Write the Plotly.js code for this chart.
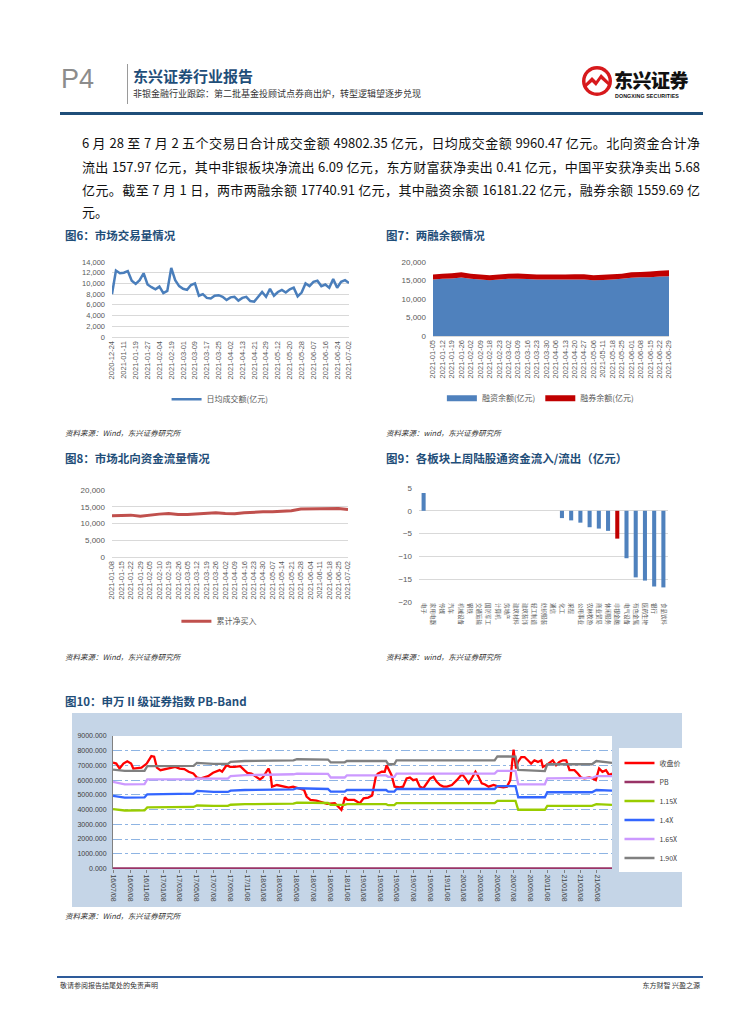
<!DOCTYPE html>
<html><head><meta charset="utf-8">
<script src="https://cdn.plot.ly/plotly-3.0.1.min.js"></script>
<style>
html,body{margin:0;padding:0;background:#fff;}
body{width:755px;height:1024px;position:relative;overflow:hidden;font-family:"Noto Sans CJK SC","Noto Sans",sans-serif;}
.abs{position:absolute;white-space:nowrap;}
.ctitle{position:absolute;font-size:11.5px;font-weight:bold;color:#1F4E79;white-space:nowrap;line-height:14px;}
.src{position:absolute;font-size:7.5px;color:#333;font-style:italic;white-space:nowrap;line-height:10px;}
.para{position:absolute;left:82px;width:618px;font-size:13px;line-height:18px;white-space:nowrap;text-align:justify;text-align-last:justify;color:#111;}
.chart{position:absolute;}
</style></head><body>

<!-- header -->
<div class="abs" style="left:61px;top:63px;font-family:'Liberation Sans',Arial,sans-serif;font-size:27px;color:#8c8c8c;line-height:32px;">P4</div>
<div class="abs" style="left:127px;top:64px;width:1px;height:40px;background:#9a9a9a;"></div>
<div class="abs" style="left:133px;top:67px;font-size:15px;font-weight:bold;color:#1F4E79;line-height:18px;">东兴证券行业报告</div>
<div class="abs" style="left:133px;top:88px;font-size:9px;color:#333;line-height:11px;">非银金融行业跟踪：第二批基金投顾试点券商出炉，转型逻辑望逐步兑现</div>
<svg class="abs" style="left:581px;top:65px;" width="32" height="32" viewBox="0 0 32 32">
  <circle cx="16" cy="16" r="15" fill="#D7191C"/>
  <circle cx="16" cy="16" r="11.5" fill="#fff"/>
  <path d="M4 19 L11 12 L15 16 L20 9 L28 17 L28 21 L20 14 L15 21 L11 17 L4 23 Z" fill="#D7191C"/>
</svg>
<div class="abs" style="left:614px;top:69px;font-size:19px;font-weight:900;color:#111;line-height:22px;letter-spacing:-0.5px;">东兴证券</div>
<div class="abs" style="left:615px;top:93px;font-family:'Liberation Sans',Arial,sans-serif;font-size:5.3px;font-weight:bold;color:#111;line-height:7px;letter-spacing:0.1px;">DONGXING SECURITIES</div>
<div class="abs" style="left:60px;top:112px;width:643px;height:3px;background:#1F4E79;"></div>

<!-- paragraph -->
<div class="para" style="top:134px;">6 月 28 至 7 月 2 五个交易日合计成交金额 49802.35 亿元，日均成交金额 9960.47 亿元。北向资金合计净</div>
<div class="para" style="top:158px;">流出 157.97 亿元，其中非银板块净流出 6.09 亿元，东方财富获净卖出 0.41 亿元，中国平安获净卖出 5.68</div>
<div class="para" style="top:181px;">亿元。截至 7 月 1 日，两市两融余额 17740.91 亿元，其中融资余额 16181.22 亿元，融券余额 1559.69 亿</div>
<div class="para" style="top:203px;text-align:left;text-align-last:left;">元。</div>

<!-- chart titles -->
<div class="ctitle" style="left:65px;top:228px;">图6：市场交易量情况</div>
<div class="ctitle" style="left:386px;top:228px;">图7：两融余额情况</div>
<div class="ctitle" style="left:65px;top:451px;">图8：市场北向资金流量情况</div>
<div class="ctitle" style="left:386px;top:451px;">图9：各板块上周陆股通资金流入/流出（亿元）</div>
<div class="ctitle" style="left:65px;top:694px;">图10：申万 II 级证券指数 PB-Band</div>

<div class="chart" id="c6" style="left:60px;top:245px;width:300px;height:180px;"></div>
<div class="chart" id="c7" style="left:380px;top:245px;width:320px;height:180px;"></div>
<div class="chart" id="c8" style="left:60px;top:470px;width:300px;height:190px;"></div>
<div class="chart" id="c9" style="left:380px;top:470px;width:320px;height:190px;"></div>
<div class="abs" style="left:72px;top:713px;width:610px;height:194px;background:#C5D5E7;"></div>
<div class="chart" id="c10" style="left:72px;top:713px;width:650px;height:194px;"></div>

<!-- sources -->
<div class="src" style="left:65px;top:428px;">资料来源：Wind，东兴证券研究所</div>
<div class="src" style="left:386px;top:428px;">资料来源：wind，东兴证券研究所</div>
<div class="src" style="left:65px;top:652px;">资料来源：Wind，东兴证券研究所</div>
<div class="src" style="left:386px;top:652px;">资料来源：wind，东兴证券研究所</div>
<div class="src" style="left:65px;top:911px;">资料来源：Wind，东兴证券研究所</div>

<!-- footer -->
<div class="abs" style="left:57px;top:976px;width:646px;height:2px;background:#2E5B9A;"></div>
<div class="abs" style="left:60px;top:981px;font-size:7px;color:#333;line-height:9px;">敬请参阅报告结尾处的免责声明</div>
<div class="abs" style="left:640px;top:981px;width:60px;text-align:right;font-size:7px;color:#333;line-height:9px;">东方财智 兴盈之源</div>

<script>
// ===== 图6 市场交易量 =====
const volDates = ['2020-12-24','2020-12-30','2021-01-06','2021-01-11','2021-01-13','2021-01-15','2021-01-19','2021-01-21','2021-01-25','2021-01-27','2021-01-29','2021-02-02','2021-02-04','2021-02-08','2021-02-10','2021-02-19','2021-02-23','2021-02-25','2021-03-01','2021-03-03','2021-03-05','2021-03-09','2021-03-11','2021-03-15','2021-03-17','2021-03-19','2021-03-23','2021-03-25','2021-03-29','2021-03-31','2021-04-02','2021-04-07','2021-04-09','2021-04-13','2021-04-15','2021-04-19','2021-04-21','2021-04-23','2021-04-27','2021-04-29','2021-05-06','2021-05-10','2021-05-12','2021-05-14','2021-05-18','2021-05-20','2021-05-24','2021-05-26','2021-05-28','2021-06-01','2021-06-03','2021-06-07','2021-06-09','2021-06-11','2021-06-16','2021-06-18','2021-06-22','2021-06-24','2021-06-28','2021-06-30','2021-07-02'];
const volValues = [8000,12400,11900,12000,12300,10500,9900,10600,11900,9800,9300,8900,9400,8200,8600,12900,10600,9500,9000,8800,9700,10000,7700,8000,7300,7200,7700,7800,7500,6900,7400,7500,6800,7300,7500,6700,6600,7400,8400,7500,9000,7700,8400,8800,8300,8900,9200,7600,8300,10000,9500,10300,10500,9500,9800,9200,10800,9200,10300,10600,10100];
const volTickLabels = ['2020-12-24','2021-01-11','2021-01-19','2021-01-27','2021-02-04','2021-02-19','2021-03-01','2021-03-09','2021-03-17','2021-03-25','2021-04-02','2021-04-13','2021-04-21','2021-04-29','2021-05-12','2021-05-20','2021-05-28','2021-06-07','2021-06-16','2021-06-24','2021-07-02'];
const volName = '日均成交额(亿元)';

// ===== 图7 两融余额 =====
const marginDates = ['2021-01-05','2021-01-12','2021-01-19','2021-01-26','2021-02-02','2021-02-09','2021-02-18','2021-02-23','2021-03-02','2021-03-09','2021-03-16','2021-03-23','2021-03-30','2021-04-06','2021-04-13','2021-04-20','2021-04-27','2021-05-06','2021-05-11','2021-05-18','2021-05-25','2021-06-01','2021-06-08','2021-06-15','2021-06-22','2021-06-29'];
const financingBal = [15300,15450,15550,15800,15450,15300,15100,15300,15450,15500,15400,15300,15250,15250,15300,15300,15250,15050,15150,15300,15450,15750,15850,15900,16100,16180];
const lendingBal = [1300,1350,1400,1400,1350,1350,1300,1350,1350,1400,1350,1350,1350,1350,1350,1400,1450,1400,1400,1400,1400,1450,1450,1500,1550,1560];
const marginNames = ['融资余额(亿元)','融券余额(亿元)'];

// ===== 图8 北向资金 =====
const nbDates = ['2021-01-08','2021-01-15','2021-01-22','2021-01-29','2021-02-05','2021-02-10','2021-02-19','2021-02-26','2021-03-05','2021-03-12','2021-03-19','2021-03-26','2021-04-02','2021-04-09','2021-04-16','2021-04-23','2021-04-30','2021-05-07','2021-05-14','2021-05-21','2021-05-28','2021-06-04','2021-06-11','2021-06-18','2021-06-25','2021-07-02'];
const nbValues = [12300,12300,12500,12200,12600,12800,13000,12700,12700,12800,13000,13200,13000,12900,13200,13400,13500,13500,13600,13800,14300,14300,14300,14300,14500,14200];
const nbName = '累计净买入';

// ===== 图9 各板块陆股通资金 =====
const sectors = ['电子','家用电器','传媒','汽车','机械设备','钢铁','交通运输','国防军工','计算机','房地产','建筑材料','建筑装饰','轻工制造','纺织服装','通信','化工','采掘','公用事业','农林牧渔','商业贸易','休闲服务','非银金融','电气设备','有色金属','医药生物','银行','食品饮料'];
const sectorFlows = [3.9,0,0,0,0,0,0,0,0,0,0,0,0,0,0,-1.6,-2.1,-2.6,-3.6,-3.9,-4.4,-6.1,-10.4,-14.6,-15.3,-16.6,-16.8];
const highlightSector = '非银金融';

// ===== 图10 PB-Band =====
const closeDates = ['2016-07-08','2016-07-20','2016-08-01','2016-08-15','2016-08-29','2016-09-12','2016-09-20','2016-10-20','2016-11-08','2016-11-25','2016-12-05','2016-12-15','2016-12-28','2017-01-20','2017-02-20','2017-03-08','2017-03-25','2017-04-10','2017-04-27','2017-05-10','2017-05-25','2017-06-20','2017-07-08','2017-08-01','2017-08-10','2017-08-26','2017-09-08','2017-09-25','2017-10-15','2017-10-30','2017-11-10','2017-11-25','2017-12-08','2017-12-26','2018-01-05','2018-01-15','2018-01-26','2018-02-02','2018-02-08','2018-02-26','2018-03-26','2018-04-10','2018-04-26','2018-05-20','2018-06-05','2018-06-14','2018-06-28','2018-07-20','2018-08-14','2018-08-28','2018-09-25','2018-10-12','2018-10-19','2018-10-25','2018-11-01','2018-11-10','2018-12-05','2018-12-25','2019-01-08','2019-01-25','2019-02-08','2019-02-22','2019-03-01','2019-03-15','2019-03-26','2019-04-02','2019-04-08','2019-04-20','2019-05-01','2019-05-20','2019-06-01','2019-06-14','2019-06-26','2019-07-08','2019-07-20','2019-08-01','2019-08-14','2019-08-26','2019-09-08','2019-09-20','2019-10-01','2019-10-14','2019-10-26','2019-11-08','2019-11-26','2019-12-14','2020-01-02','2020-01-14','2020-01-26','2020-02-08','2020-02-20','2020-03-02','2020-03-14','2020-03-26','2020-04-08','2020-04-26','2020-05-14','2020-06-01','2020-06-14','2020-06-26','2020-07-08','2020-07-17','2020-07-24','2020-08-05','2020-08-17','2020-08-29','2020-09-10','2020-09-22','2020-10-05','2020-10-17','2020-10-23','2020-11-04','2020-11-16','2020-11-28','2020-12-10','2020-12-22','2021-01-04','2021-01-16','2021-01-28','2021-02-15','2021-02-27','2021-03-11','2021-03-23','2021-04-10','2021-04-22','2021-05-04','2021-05-16','2021-05-28','2021-06-10','2021-06-22','2021-07-02'];
const closeValues = [7190,7130,6790,7130,7280,7130,6790,6850,7130,7640,7600,6850,6680,6790,6900,6790,6750,6570,6450,6180,6120,6270,6500,6680,6570,7010,6900,6900,6950,6680,6500,6450,6300,6050,6180,6450,6790,6450,5560,5670,5560,5490,5560,5450,5330,4890,4660,4610,4440,4390,4440,4100,3990,4330,4840,4660,4660,4440,4770,4820,4960,6260,6450,6570,6570,7010,6790,6340,5560,5510,5560,6120,6180,6000,6050,5560,5450,5780,6120,6230,5900,5670,5560,5560,5670,6000,6410,6120,5780,6180,6570,6230,5780,5710,5560,5670,5560,5510,5560,6000,8070,6790,7240,7570,7570,7350,7130,7350,7240,7350,6900,7010,7190,7350,7010,7240,7350,7350,6680,6680,6450,6180,6120,6180,6120,6000,6790,6570,6680,6340,6450];
const bandDates = ['2016-07-08','2016-08-20','2016-10-31','2016-11-10','2017-04-28','2017-05-10','2017-07-10','2017-08-31','2017-09-10','2017-11-01','2018-04-27','2018-05-10','2018-08-31','2018-09-10','2018-10-31','2018-11-08','2019-03-31','2019-04-08','2019-04-30','2019-05-08','2020-04-30','2020-05-10','2020-07-15','2020-07-25','2020-10-30','2020-11-08','2021-04-20','2021-05-06','2021-07-02'];
const pbValues = [2.03,2.0,1.98,1.95,1.88,1.75,1.85,1.98,1.92,1.78,1.6,1.45,1.25,1.23,1.15,1.3,1.75,1.83,1.7,1.55,1.6,1.45,2.35,2.05,2.1,2.0,1.8,1.75,1.8];
const band115 = [4030,3940,3950,4150,4180,4280,4250,4250,4330,4370,4400,4480,4450,4320,4320,4370,4370,4300,4300,4440,4440,4590,4590,3990,3990,4260,4260,4370,4320];
const band140 = [4930,4820,4830,5040,5080,5270,5200,5200,5290,5330,5380,5450,5400,5220,5220,5330,5330,5220,5220,5400,5400,5600,5600,4840,4840,5180,5180,5330,5290];
const band165 = [5890,5720,5730,6050,6070,6120,6100,6100,6280,6340,6400,6450,6430,6180,6180,6320,6320,6230,6230,6450,6450,6630,6630,5720,5720,6120,6150,6280,6270];
const band190 = [6720,6630,6640,6950,6970,7170,7100,7100,7250,7300,7350,7420,7400,7210,7210,7300,7300,7080,7080,7350,7350,7620,7600,6700,6610,7080,7080,7300,7170];
const pbSeriesNames = ['收盘价','PB','1.15X','1.4X','1.65X','1.90X'];
const pbTickLabels = ['16/07/08','16/09/08','16/11/08','17/01/08','17/03/08','17/05/08','17/07/08','17/09/08','17/11/08','18/01/08','18/03/08','18/05/08','18/07/08','18/09/08','18/11/08','19/01/08','19/03/08','19/05/08','19/07/08','19/09/08','19/11/08','20/01/08','20/03/08','20/05/08','20/07/08','20/09/08','20/11/08','21/01/08','21/03/08','21/05/08'];

const cfg = {staticPlot:true, displayModeBar:false};
const baseFont = {family:'Liberation Sans, Arial, sans-serif', size:7, color:'#595959'};
const legFont = {family:'Noto Sans CJK SC, sans-serif', size:8, color:'#595959'};

// 图6
Plotly.newPlot('c6', [{
  type:'scatter', mode:'lines', x:volDates, y:volValues, name:volName, showlegend:true,
  line:{color:'#4A7EBB', width:2.5}
}], {
  width:300, height:180, margin:{l:52,r:11,t:17,b:86},
  paper_bgcolor:'rgba(0,0,0,0)', plot_bgcolor:'rgba(0,0,0,0)', font:baseFont,
  xaxis:{type:'category', range:[0, volDates.length-1], tickmode:'array', tickvals:volTickLabels, ticktext:volTickLabels,
         tickangle:-90, showgrid:false, showline:true, linecolor:'#D9D9D9', ticks:'', tickfont:{size:7.5}, automargin:false},
  yaxis:{range:[0,14000], dtick:2000, tickformat:',d', gridcolor:'#D9D9D9', zeroline:false, showline:false, ticks:'', ticklabelstandoff:6, automargin:false, tickfont:{size:7.5}},
  showlegend:true,
  legend:{orientation:'h', x:0.456, xanchor:'center', y:-0.83, yanchor:'middle', font:legFont}
}, cfg);

// 图7
Plotly.newPlot('c7', [
  {type:'scatter', mode:'none', x:marginDates, y:financingBal, name:marginNames[0], stackgroup:'m', fillcolor:'#4F81BD'},
  {type:'scatter', mode:'none', x:marginDates, y:lendingBal, name:marginNames[1], stackgroup:'m', fillcolor:'#C00000'}
], {
  width:320, height:180, margin:{l:53,r:31,t:17,b:86},
  paper_bgcolor:'rgba(0,0,0,0)', plot_bgcolor:'rgba(0,0,0,0)', font:baseFont,
  xaxis:{type:'category', range:[0, marginDates.length-1], tickmode:'array', tickvals:marginDates, ticktext:marginDates,
         tickangle:-90, showgrid:false, showline:true, linecolor:'#D9D9D9', ticks:'', tickfont:{size:7.5}, automargin:false},
  yaxis:{range:[0,20000], dtick:5000, tickformat:',d', gridcolor:'#D9D9D9', zeroline:false, showline:false, ticks:'', ticklabelstandoff:6, automargin:false, tickfont:{size:8}},
  showlegend:true,
  legend:{orientation:'h', traceorder:'normal', x:0.455, xanchor:'center', y:-0.84, yanchor:'middle', font:legFont, itemwidth:30}
}, cfg);

// 图8
Plotly.newPlot('c8', [{
  type:'scatter', mode:'lines', x:nbDates, y:nbValues, name:nbName, showlegend:true,
  line:{color:'#C0504D', width:3}
}], {
  width:300, height:190, margin:{l:52,r:12,t:20,b:103},
  paper_bgcolor:'rgba(0,0,0,0)', plot_bgcolor:'rgba(0,0,0,0)', font:baseFont,
  xaxis:{type:'category', range:[0, nbDates.length-1], tickmode:'array', tickvals:nbDates, ticktext:nbDates,
         tickangle:-90, showgrid:false, showline:true, linecolor:'#D9D9D9', ticks:'', tickfont:{size:7.5}, automargin:false},
  yaxis:{range:[0,20000], dtick:5000, tickformat:',d', gridcolor:'#D9D9D9', zeroline:false, showline:false, ticks:'', ticklabelstandoff:6, automargin:false, tickfont:{size:8}},
  showlegend:true,
  legend:{orientation:'h', x:0.453, xanchor:'center', y:-0.96, yanchor:'middle', font:legFont}
}, cfg);

// 图9
Plotly.newPlot('c9', [{
  type:'bar', x:sectors, y:sectorFlows,
  marker:{color:sectors.map(s => s === highlightSector ? '#C00000' : '#4F81BD')}
}], {
  width:320, height:190, margin:{l:39,r:32,t:18,b:58},
  paper_bgcolor:'rgba(0,0,0,0)', plot_bgcolor:'rgba(0,0,0,0)', font:baseFont,
  bargap:0.56, showlegend:false,
  xaxis:{type:'category', tickangle:90, showgrid:false, showline:false, ticks:'', tickfont:{family:'Noto Sans CJK SC, sans-serif', size:5.5, color:'#595959'}, automargin:false},
  yaxis:{range:[-20,5], dtick:5, gridcolor:'#D9D9D9', zeroline:true, zerolinecolor:'#D9D9D9', zerolinewidth:1, showline:false, ticks:'', ticklabelstandoff:6, automargin:false, tickfont:{size:8}}
}, cfg);

// 图10
const pbTickDates = pbTickLabels.map(t => { const p = t.split('/'); return '20' + p[0] + '-' + p[1] + '-' + p[2]; });
const bandColors = ['#99CC00','#3366FF','#CC99FF','#808080'];
const bands = [band115, band140, band165, band190];
const traces10 = [
  {type:'scatter', mode:'lines', x:closeDates, y:closeValues, name:pbSeriesNames[0], line:{color:'#FF0000', width:2.3}},
  {type:'scatter', mode:'lines', x:bandDates, y:pbValues, name:pbSeriesNames[1], line:{color:'#993366', width:2.5}}
];
bands.forEach((b,i) => traces10.push({type:'scatter', mode:'lines', x:bandDates, y:b, name:pbSeriesNames[i+2], line:{color:bandColors[i], width:2.3}}));
Plotly.newPlot('c10', traces10, {
  width:650, height:194, margin:{l:41,r:110,t:23,b:38, autoexpand:false},
  paper_bgcolor:'rgba(0,0,0,0)', plot_bgcolor:'#FFFFFF',
  font:{family:'Liberation Sans, Arial, sans-serif', size:7, color:'#404040'},
  xaxis:{type:'date', range:['2016-07-08','2021-07-02'], tickmode:'array', tickvals:pbTickDates, ticktext:pbTickLabels,
         tickangle:90, ticks:'outside', ticklen:3, tickcolor:'#808080', showline:false, showgrid:false, automargin:false, tickfont:{size:7}},
  yaxis:{range:[-35,9000], tickmode:'array', tickvals:[0,1000,2000,3000,4000,5000,6000,7000,8000,9000], tickformat:'.3f',
         gridcolor:'#8EB4E3', griddash:'dashdot', gridwidth:1, showline:true, linecolor:'#808080', zeroline:false, ticks:'', ticklabelstandoff:4, automargin:false, tickfont:{size:7}},
  showlegend:true,
  legend:{x:1.015, xanchor:'left', y:0.44, yanchor:'middle', bgcolor:'#FFFFFF', font:{family:'Noto Sans CJK SC, sans-serif', size:7, color:'#404040'}, itemwidth:30, tracegroupgap:0}
}, cfg);
</script>
</body></html>
